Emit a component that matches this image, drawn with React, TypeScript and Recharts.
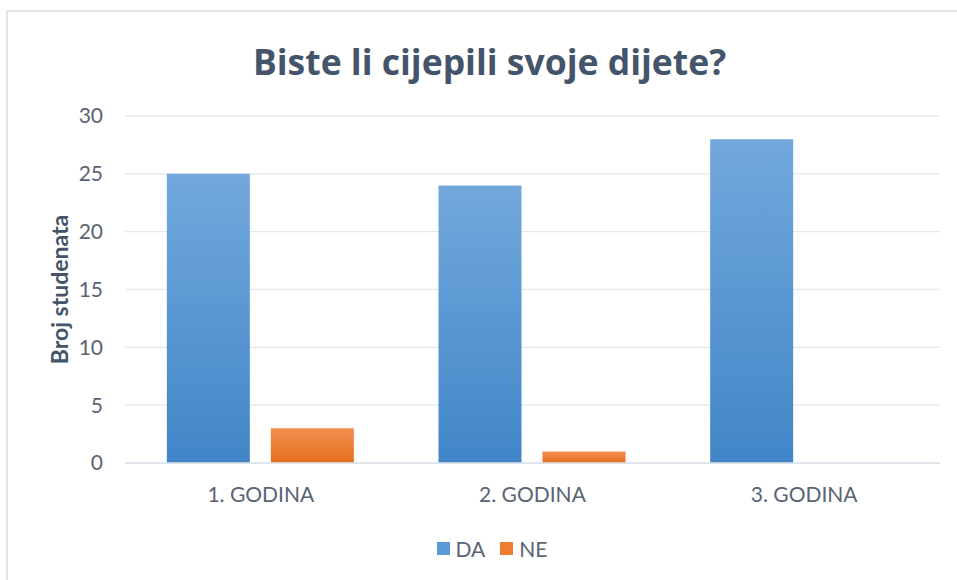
import React from 'react';
import { BarChart, Bar, XAxis, YAxis, CartesianGrid, Legend } from 'recharts';

// Survey answers per study year
const categories = ['1. GODINA', '2. GODINA', '3. GODINA'];
const daValues = [25, 24, 28];
const neValues = [3, 1, 0];
const yTicks = [0, 5, 10, 15, 20, 25, 30];

const chartTitle = 'Biste li cijepili svoje dijete?';
const yAxisTitle = 'Broj studenata';

const series = [
  { key: 'DA', color: '#5B9BD5', gradient: 'gradDA', top: '#72A8DC', bottom: '#4186C8' },
  { key: 'NE', color: '#ED7D31', gradient: 'gradNE', top: '#F28E4F', bottom: '#E56E1F' },
];

const data = categories.map((name, i) => ({ name, DA: daValues[i], NE: neValues[i] }));

const FONT = 'Lato, "Noto Sans", sans-serif';
const TITLE_FONT = '"Open Sans", Lato, sans-serif';
const TEXT = '#5A6374';
const TITLE = '#44546A';
const GRID = '#E5E8ED';

const YTitle = (props: any) => {
  const vb = props.viewBox || { x: 0, y: 0, width: 0, height: 0 };
  const cx = 59;
  const cy = vb.y + vb.height / 2;
  return (
    <text
      x={cx}
      y={cy}
      transform={`rotate(-90 ${cx} ${cy})`}
      textAnchor="middle"
      dominantBaseline="central"
      fill={TITLE}
      fontFamily={FONT}
      fontWeight={700}
      fontSize={23}
    >
      {yAxisTitle}
    </text>
  );
};

const renderLegend = () => (
  <div
    style={{
      display: 'flex',
      justifyContent: 'center',
      alignItems: 'center',
      height: 28,
      fontFamily: FONT,
      fontSize: 21,
      color: TEXT,
    }}
  >
    {series.map((s, i) => (
      <span
        key={s.key}
        style={{ display: 'flex', alignItems: 'center', marginLeft: i === 0 ? 0 : 15 }}
      >
        <span
          style={{ display: 'inline-block', width: 13, height: 13, background: s.color, marginRight: 6 }}
        />
        {s.key}
      </span>
    ))}
  </div>
);

export default function App() {
  return (
    <div
      style={{
        position: 'absolute',
        left: 0,
        top: 0,
        width: 957,
        height: 580,
        overflow: 'hidden',
        background: '#FFFFFF',
      }}
    >
      {/* chart area frame */}
      <div
        style={{
          position: 'absolute',
          left: 6,
          top: 10,
          width: 1000,
          height: 1000,
          borderTop: '2px solid #E1E5EB',
          borderLeft: '2px solid #E1E5EB',
        }}
      />
      <div
        style={{
          position: 'absolute',
          left: 6,
          width: 967,
          top: 41,
          textAlign: 'center',
          fontFamily: TITLE_FONT,
          fontWeight: 700,
          fontSize: 35.5,
          color: TITLE,
          lineHeight: '40px',
          whiteSpace: 'nowrap',
        }}
      >
        {chartTitle}
      </div>
      <div style={{ position: 'absolute', left: 0, top: 0 }}>
        <BarChart
          width={957}
          height={580}
          data={data}
          margin={{ top: 116, right: 17, bottom: 18, left: 0 }}
          barCategoryGap="15.4%"
          barGap={21}
        >
          <defs>
            {series.map((s) => (
              <linearGradient key={s.gradient} id={s.gradient} x1="0" y1="0" x2="0" y2="1">
                <stop offset="0%" stopColor={s.top} />
                <stop offset="100%" stopColor={s.bottom} />
              </linearGradient>
            ))}
          </defs>
          <CartesianGrid vertical={false} stroke={GRID} strokeWidth={1.3} />
          <XAxis
            dataKey="name"
            axisLine={{ stroke: '#DDE2E8', strokeWidth: 1.5 }}
            tickLine={false}
            tickSize={0}
            tickMargin={24}
            height={71}
            tick={{ fill: TEXT, fontFamily: FONT, fontSize: 21 }}
            interval={0}
          />
          <YAxis
            domain={[0, 30]}
            ticks={yTicks}
            axisLine={false}
            tickLine={false}
            tickSize={0}
            tickMargin={22}
            width={125}
            tick={{ fill: TEXT, fontFamily: FONT, fontSize: 21 }}
            label={{ content: YTitle }}
          />
          <Legend
            verticalAlign="bottom"
            align="center"
            height={28}
            wrapperStyle={{ left: 6, width: 972 }}
            content={renderLegend}
          />
          {series.map((s) => (
            <Bar
              key={s.key}
              dataKey={s.key}
              fill={`url(#${s.gradient})`}
              isAnimationActive={false}
            />
          ))}
        </BarChart>
      </div>
    </div>
  );
}
